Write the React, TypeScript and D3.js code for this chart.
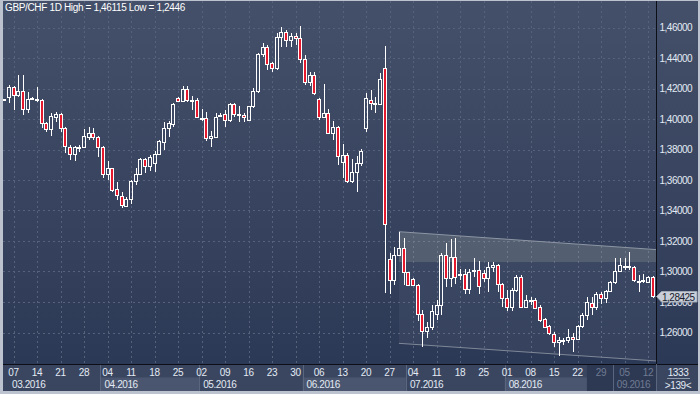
import React from 'react';
import * as d3 from 'd3';

const W = 700;
const H = 394;

// trading days (Mon-Fri) from 3 Mar 2016 to 13 Sep 2016 -> 139 bars
const firstDay = new Date(2016, 2, 3);
const lastDay = new Date(2016, 8, 13);
const dates: Date[] = d3.timeDay
  .range(firstDay, d3.timeDay.offset(lastDay, 1))
  .filter((d) => d.getDay() !== 0 && d.getDay() !== 6);

const open = [
  1.4125, 1.4142, 1.4208, 1.4155, 1.4182, 1.4064, 1.4130, 1.4130, 1.4125, 1.3972,
  1.3932, 1.4015, 1.4031, 1.3939, 1.3818, 1.3769, 1.3817, 1.3814, 1.3884, 1.3906,
  1.3880, 1.3814, 1.3639, 1.3677, 1.3539, 1.3497, 1.3431, 1.3476, 1.3593, 1.3639,
  1.3738, 1.3694, 1.3710, 1.3769, 1.3851, 1.3939, 1.3967, 1.4140, 1.4120, 1.4195,
  1.4122, 1.4123, 1.4006, 1.4005, 1.3873, 1.3884, 1.4025, 1.4031, 1.3991, 1.4096,
  1.4030, 1.4026, 1.3995, 1.4083, 1.4184, 1.4424, 1.4474, 1.4365, 1.4332, 1.4540,
  1.4569, 1.4518, 1.4544, 1.4529, 1.4391, 1.4245, 1.4289, 1.4129, 1.4011, 1.4037,
  1.3910, 1.3946, 1.3720, 1.3764, 1.3595, 1.3654, 1.3710, 1.3939, 1.4125, 1.4107,
  1.4096, 1.4332, 1.3080, 1.2944, 1.3108, 1.3156, 1.2995, 1.2949, 1.2911, 1.2719,
  1.2610, 1.2634, 1.2719, 1.2780, 1.3108, 1.2955, 1.3093, 1.2977, 1.2985, 1.2883,
  1.3005, 1.3007, 1.2992, 1.2955, 1.3031, 1.3043, 1.2916, 1.2824, 1.2767, 1.2879,
  1.2966, 1.2769, 1.2812, 1.2813, 1.2769, 1.2687, 1.2643, 1.2590, 1.2536, 1.2548,
  1.2551, 1.2568, 1.2557, 1.2643, 1.2715, 1.2795, 1.2765, 1.2850, 1.2828, 1.2872,
  1.2929, 1.3005, 1.3037, 1.3037, 1.3031, 1.2940, 1.2939, 1.2933, 1.2966,
];

const high = [
  1.4133, 1.4223, 1.4215, 1.4289, 1.4289, 1.4175, 1.4142, 1.4208, 1.4129, 1.3982,
  1.4037, 1.4048, 1.4041, 1.3945, 1.3830, 1.3823, 1.3830, 1.3932, 1.3950, 1.3939,
  1.3889, 1.3820, 1.3725, 1.3680, 1.3589, 1.3523, 1.3490, 1.3600, 1.3677, 1.3742,
  1.3746, 1.3764, 1.3790, 1.3862, 1.3982, 1.3987, 1.4107, 1.4147, 1.4216, 1.4216,
  1.4151, 1.4136, 1.4064, 1.4048, 1.3921, 1.4041, 1.4040, 1.4059, 1.4103, 1.4103,
  1.4087, 1.4037, 1.4085, 1.4205, 1.4430, 1.4496, 1.4485, 1.4376, 1.4562, 1.4605,
  1.4584, 1.4562, 1.4562, 1.46115, 1.4420, 1.4310, 1.4310, 1.4135, 1.4229, 1.4064,
  1.3987, 1.3954, 1.3836, 1.3775, 1.3736, 1.3757, 1.3803, 1.4169, 1.4190, 1.4146,
  1.4300, 1.4479, 1.3119, 1.3163, 1.3261, 1.3218, 1.2999, 1.2955, 1.2915, 1.2748,
  1.2671, 1.2780, 1.2813, 1.3119, 1.3185, 1.3211, 1.3218, 1.3014, 1.3014, 1.3014,
  1.3087, 1.3068, 1.3010, 1.3064, 1.3064, 1.3048, 1.2923, 1.2879, 1.2890, 1.2977,
  1.2977, 1.2846, 1.2835, 1.2824, 1.2780, 1.2693, 1.2649, 1.2601, 1.2572, 1.2562,
  1.2623, 1.2595, 1.2649, 1.2726, 1.2835, 1.2835, 1.2868, 1.2868, 1.2879, 1.2938,
  1.3087, 1.3087, 1.3087, 1.3126, 1.3038, 1.2977, 1.2982, 1.2970, 1.2970,
];

const low = [
  1.4120, 1.4107, 1.4059, 1.4142, 1.4024, 1.4037, 1.4125, 1.4113, 1.3939, 1.3917,
  1.3889, 1.3982, 1.3917, 1.3775, 1.3731, 1.3725, 1.3786, 1.3808, 1.3862, 1.3862,
  1.3753, 1.3611, 1.3600, 1.3519, 1.3469, 1.3414, 1.3425, 1.3440, 1.3567, 1.3633,
  1.3644, 1.3659, 1.3654, 1.3764, 1.3797, 1.3884, 1.3950, 1.4115, 1.4113, 1.4113,
  1.4059, 1.4010, 1.3987, 1.3856, 1.3818, 1.3877, 1.4018, 1.3950, 1.3982, 1.4015,
  1.3978, 1.3982, 1.3992, 1.4070, 1.4169, 1.4409, 1.4321, 1.4310, 1.4321, 1.4474,
  1.4474, 1.4474, 1.4485, 1.4369, 1.4223, 1.4216, 1.4157, 1.3993, 1.4005, 1.3902,
  1.3862, 1.3698, 1.3611, 1.3582, 1.3582, 1.3523, 1.3692, 1.3917, 1.4059, 1.4037,
  1.4092, 1.2862, 1.2852, 1.2911, 1.3102, 1.2911, 1.2905, 1.2905, 1.2677, 1.2507,
  1.2562, 1.2616, 1.2682, 1.2715, 1.2900, 1.2900, 1.2918, 1.2941, 1.2850, 1.2850,
  1.2966, 1.2850, 1.2933, 1.2868, 1.2999, 1.2868, 1.2769, 1.2741, 1.2741, 1.2868,
  1.2763, 1.2763, 1.2780, 1.2759, 1.2671, 1.2628, 1.2584, 1.2507, 1.2446, 1.2518,
  1.2529, 1.2474, 1.2551, 1.2628, 1.2682, 1.2715, 1.2748, 1.2785, 1.2791, 1.2868,
  1.2916, 1.2999, 1.3010, 1.3010, 1.2933, 1.2864, 1.2923, 1.2929, 1.2828,
];

const close = [
  1.4128, 1.4208, 1.4155, 1.4182, 1.4064, 1.4129, 1.4135, 1.4126, 1.3972, 1.3932,
  1.4020, 1.4031, 1.3939, 1.3823, 1.3770, 1.3818, 1.3819, 1.3887, 1.3906, 1.3880,
  1.3814, 1.3639, 1.3677, 1.3534, 1.3502, 1.3436, 1.3473, 1.3593, 1.3639, 1.3738,
  1.3694, 1.3753, 1.3769, 1.3856, 1.3939, 1.3972, 1.4096, 1.4120, 1.4195, 1.4125,
  1.4120, 1.4015, 1.4004, 1.3873, 1.3887, 1.4015, 1.4027, 1.3991, 1.4096, 1.4031,
  1.4032, 1.4015, 1.4083, 1.4184, 1.4424, 1.4474, 1.4359, 1.4332, 1.4540, 1.4569,
  1.4518, 1.4544, 1.4529, 1.4391, 1.4245, 1.4289, 1.4169, 1.4015, 1.4037, 1.3910,
  1.3946, 1.3757, 1.3764, 1.3595, 1.3654, 1.3710, 1.3790, 1.4136, 1.4103, 1.4105,
  1.4261, 1.3310, 1.2942, 1.3108, 1.3156, 1.2995, 1.2911, 1.2911, 1.2719, 1.2610,
  1.2634, 1.2741, 1.2780, 1.3108, 1.2955, 1.3093, 1.2966, 1.2985, 1.2883, 1.2998,
  1.3010, 1.2904, 1.2955, 1.3031, 1.3043, 1.2916, 1.2824, 1.2767, 1.2879, 1.2966,
  1.2769, 1.2813, 1.2814, 1.2763, 1.2682, 1.2638, 1.2595, 1.2536, 1.2549, 1.2550,
  1.2568, 1.2555, 1.2643, 1.2715, 1.2798, 1.2765, 1.2852, 1.2828, 1.2872, 1.2929,
  1.3005, 1.3043, 1.3039, 1.3039, 1.2944, 1.2929, 1.2941, 1.2966, 1.28425,
];

const priceTicks = [1.26, 1.28, 1.3, 1.32, 1.34, 1.36, 1.38, 1.4, 1.42, 1.44, 1.46];
const lastPrice = 1.28425;
const titleText = 'GBP/CHF 1D High = 1,46115 Low = 1,2446';
const barCountText = '1333';
const visibleText = '>139<';

// descending channel drawn on the chart (bar index, price)
const channelIdx = [84, 139];
const channelTop = [1.3261, 1.3143];
const channelBottom = [1.2529, 1.2413];
const channelBandFloor = 1.3062;
const dimFromIdx = 124;

const FONT = '"Liberation Sans", Arial, sans-serif';
const TXT = '#e3eaf4';
const DIM = '#6f7b92';

const fmtPrice = (v: number) => d3.format('.5f')(v).replace('.', ',');

export default function App() {
  const L = 3, R = 656.5, T = 1, B = 364;
  const x = d3.scaleLinear().domain([0, dates.length - 1]).range([4.1, 652.7]);
  const y = d3.scaleLinear().domain([1.26, 1.46]).range([332.5, 27.5]);

  const mondays = dates.map((d, i) => ({ d, i })).filter((o) => o.d.getDay() === 1);
  const monthStarts = dates
    .map((d, i) => ({ d, i }))
    .filter((o, k) => k === 0 || o.d.getMonth() !== dates[k - 1].getMonth());

  const sepX = (i: number) => x(i) - 2.35;

  const yTop = (i: number) => y(d3.interpolateNumber(channelTop[0], channelTop[1])((i - channelIdx[0]) / (channelIdx[1] - channelIdx[0])));
  const cx0 = x(channelIdx[0]);
  const cx1 = x(channelIdx[1]);
  const chanPoly = `${cx0},${y(channelTop[0])} ${cx1},${y(channelTop[1])} ${cx1},${y(channelBottom[1])} ${cx0},${y(channelBottom[0])}`;
  const bandPoly = `${cx0},${y(channelTop[0])} ${cx1},${y(channelTop[1])} ${cx1},${y(channelBandFloor)} ${cx0},${y(channelBandFloor)}`;
  void yTop;

  const dimX = x(dimFromIdx);
  const lpY = Math.round(y(lastPrice)) + 0.5;

  return (
    <svg width={W} height={H} style={{ position: 'absolute', left: 0, top: 0, display: 'block' }} fontFamily={FONT}>
      <defs>
        <linearGradient id="bg" x1="0" y1="0" x2="0" y2="1">
          <stop offset="0" stopColor="#445069" />
          <stop offset="0.55" stopColor="#38445f" />
          <stop offset="1" stopColor="#2c3956" />
        </linearGradient>
        <clipPath id="plotClip">
          <rect x={L} y={T} width={R - L} height={B - T} />
        </clipPath>
      </defs>
      {/* frame */}
      <rect x={0} y={0} width={W} height={H} fill="#bcc3ce" />
      <rect x={L} y={T} width={698 - L} height={B - T} fill="url(#bg)" />

      {/* grid */}
      <g stroke="#56627b" strokeDasharray="2,3" strokeWidth={1}>
        {priceTicks.map((v) => (
          <line key={v} x1={L} x2={R} y1={Math.round(y(v)) + 0.5} y2={Math.round(y(v)) + 0.5} />
        ))}
        {mondays.map((o) => (
          <line key={o.i} x1={Math.round(x(o.i)) + 0.5} x2={Math.round(x(o.i)) + 0.5} y1={T} y2={B} />
        ))}
      </g>

      {/* channel */}
      <g clipPath="url(#plotClip)">
        <polygon points={chanPoly} fill="rgba(255,255,255,0.045)" />
        <polygon points={bandPoly} fill="rgba(200,208,185,0.17)" />
        <line x1={cx0} y1={y(channelTop[0])} x2={cx1} y2={y(channelTop[1])} stroke="#8d96a4" strokeWidth={1} />
        <line x1={cx0} y1={y(channelBottom[0])} x2={cx1} y2={y(channelBottom[1])} stroke="#7f8898" strokeWidth={1} />
      </g>

      {/* candles */}
      <g clipPath="url(#plotClip)">
        {dates.map((d, i) => {
          const o = open[i], c = close[i], h = high[i], l = low[i];
          const cx = Math.round(x(i));
          const bTop = Math.round(y(Math.max(o, c)));
          const bBot = Math.max(bTop + 1, Math.round(y(Math.min(o, c))));
          const yH = Math.round(y(h));
          const yL = Math.round(y(l));
          const bear = c < o;
          return (
            <g key={i}>
              {yH < bTop && <line x1={cx + 0.5} x2={cx + 0.5} y1={yH} y2={bTop} stroke="#ffffff" />}
              {yL > bBot && <line x1={cx + 0.5} x2={cx + 0.5} y1={bBot} y2={yL} stroke="#ffffff" />}
              <rect
                x={cx - 1.5}
                y={bTop + 0.5}
                width={3}
                height={bBot - bTop}
                fill={bear ? '#e5192e' : 'none'}
                stroke="#ffffff"
                strokeWidth={1}
              />
            </g>
          );
        })}
      </g>

      {/* title */}
      <text x={5} y={11} fontSize={10} fill="#ffffff" letterSpacing={-0.35}>{titleText}</text>

      {/* right axis */}
      <line x1={656.5} x2={656.5} y1={T} y2={B} stroke="#0c0f16" />
      {priceTicks.map((v) => (
        <text key={v} x={659.5} y={y(v) + 3.5} fontSize={10} fill={TXT} letterSpacing={-0.5}>
          {fmtPrice(v)}
        </text>
      ))}
      <polygon
        points={`656.5,${lpY} 661.5,${lpY - 5} 697,${lpY - 5} 697,${lpY + 5.5} 661.5,${lpY + 5.5}`}
        fill="#c9cfd8"
        stroke="#9ea7b4"
      />
      <text x={662} y={lpY + 4} fontSize={10} fill="#18202e" letterSpacing={-0.5}>{fmtPrice(lastPrice)}</text>

      {/* bottom axis */}
      <rect x={L} y={B} width={698 - L} height={391 - B} fill="#3a4660" />
      {monthStarts.map((o, k) => {
        const x0 = Math.max(L, sepX(o.i));
        const x1 = k < monthStarts.length - 1 ? sepX(monthStarts[k + 1].i) : R;
        const light = o.d.getMonth() % 2 === 1;
        return (
          <g key={o.i}>
            <rect x={x0} y={377.5} width={x1 - x0} height={13.5} fill={light ? '#4a566f' : '#3a4660'} />
          </g>
        );
      })}
      <rect x={dimX} y={B} width={R - dimX} height={391 - B} fill="#2d3853" />
      {monthStarts.slice(1).map((o) => (
        <line key={o.i} x1={Math.round(sepX(o.i)) + 0.5} x2={Math.round(sepX(o.i)) + 0.5} y1={B} y2={391} stroke="#5a667e" />
      ))}
      <line x1={L} x2={698} y1={B + 0.5} y2={B + 0.5} stroke="#0c0f16" />
      {mondays.map((o) => (
        <text
          key={o.i}
          x={Math.max(x(o.i), 8.7)}
          y={376}
          fontSize={10}
          textAnchor="middle"
          fill={x(o.i) >= dimX ? DIM : TXT}
          letterSpacing={-0.4}
        >
          {d3.timeFormat('%d')(o.d)}
        </text>
      ))}
      {monthStarts.map((o) => (
        <text
          key={o.i}
          x={Math.max(sepX(o.i) + 4, 12)}
          y={387.5}
          fontSize={10}
          fill={sepX(o.i) >= dimX ? DIM : TXT}
          letterSpacing={-0.4}
        >
          {d3.timeFormat('%m.%Y')(o.d)}
        </text>
      ))}

      {/* bottom right box */}
      <rect x={657} y={B + 1} width={41} height={391 - B - 1} fill="#3a4660" />
      <line x1={656.5} x2={656.5} y1={B} y2={391} stroke="#5a667e" />
      <text x={678} y={375.5} fontSize={10} textAnchor="middle" fill={TXT} letterSpacing={-0.4}>{barCountText}</text>
      <line x1={667} x2={690} y1={378.5} y2={378.5} stroke="#8f9aab" />
      <text x={678} y={388.5} fontSize={10} textAnchor="middle" fill={TXT} letterSpacing={-0.4}>{visibleText}</text>
    </svg>
  );
}
